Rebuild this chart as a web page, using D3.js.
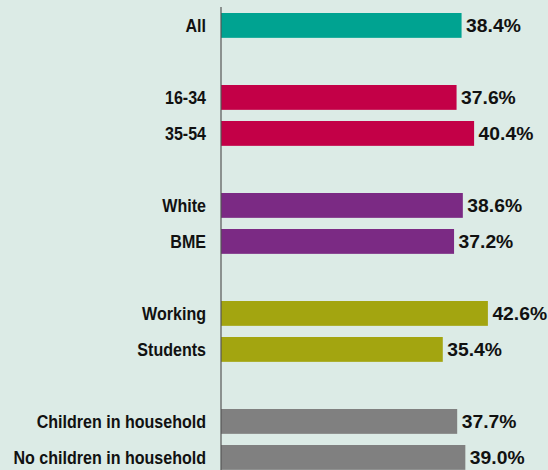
<!DOCTYPE html>
<html>
<head>
<meta charset="utf-8">
<script src="https://cdn.jsdelivr.net/npm/d3@7"></script>
<style>
  html, body { margin: 0; padding: 0; background: #dcebe6; }
  svg { display: block; }
  text { font-family: "Liberation Sans", Arial, sans-serif; font-weight: bold; fill: #111; }
</style>
</head>
<body>
<svg id="chart" width="548" height="470"></svg>
<script>
const categories = ["All", "16-34", "35-54", "White", "BME", "Working", "Students", "Children in household", "No children in household"];
const values = [38.4, 37.6, 40.4, 38.6, 37.2, 42.6, 35.4, 37.7, 39.0];
const groupOf = [0, 1, 1, 2, 2, 3, 3, 4, 4];
const groupColors = ["#00a391", "#c30047", "#7b2a84", "#a3a510", "#808080"];

const W = 548, H = 470;
const axisX = 221;
const fontSize = "18.8px";
const svg = d3.select("#chart");

// measure natural widths to emulate the condensed face of the original
function measure(str) {
  const t = svg.append("text").style("font-size", fontSize).text(str);
  const w = t.node().getComputedTextLength();
  t.remove();
  return w;
}
const labelSqueeze = 192.5 / measure("No children in household");
const valueSqueeze = 54.7 / measure("38.4%");

const data = categories.map((c, i) => ({ name: c, value: values[i], group: groupOf[i], slot: i + groupOf[i] }));
const nSlots = d3.max(data, d => d.slot) + 1;

const pad = 0.31;
const step = 36;
const y0 = 13;
const y = d3.scaleBand()
  .domain(d3.range(nSlots))
  .range([y0, y0 + step * (nSlots - pad)])
  .paddingInner(pad)
  .paddingOuter(0);

const x = d3.scaleLinear().domain([0, 50]).range([axisX, axisX + 50 * 6.265]);

svg.append("g").selectAll("rect")
  .data(data)
  .join("rect")
  .attr("x", x(0))
  .attr("y", d => y(d.slot))
  .attr("width", d => x(d.value) - x(0))
  .attr("height", y.bandwidth())
  .attr("fill", d => groupColors[d.group]);

// axis line
svg.append("line")
  .attr("x1", axisX).attr("x2", axisX)
  .attr("y1", 7).attr("y2", H)
  .attr("stroke", "#555").attr("stroke-width", 1.2);

svg.append("g").selectAll("text")
  .data(data)
  .join("text")
  .attr("transform", d => `translate(${axisX - 15},${y(d.slot) + y.bandwidth() / 2}) scale(${labelSqueeze},1)`)
  .attr("dy", "0.35em")
  .attr("text-anchor", "end")
  .style("font-size", fontSize)
  .text(d => d.name);

svg.append("g").selectAll("text")
  .data(data)
  .join("text")
  .attr("transform", d => `translate(${x(d.value) + 4.5},${y(d.slot) + y.bandwidth() / 2}) scale(${valueSqueeze},1)`)
  .attr("dy", "0.35em")
  .attr("text-anchor", "start")
  .style("font-size", fontSize)
  .text(d => d.value.toFixed(1) + "%");
</script>
</body>
</html>
